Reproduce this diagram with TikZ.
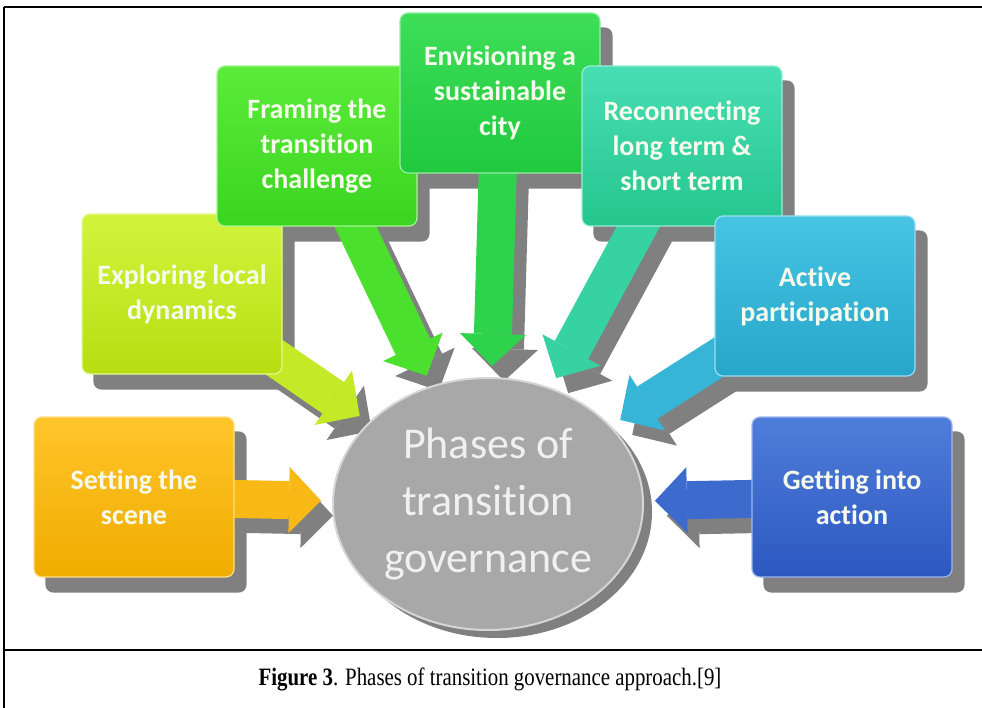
\documentclass[tikz,border=0pt]{standalone}
\usepackage{fontspec}
\setmainfont{Liberation Serif}
\newfontfamily\calibri[Ligatures=NoCommon]{Carlito}
\usetikzlibrary{shapes.geometric, arrows.meta, positioning}
\definecolor{scenetop}{HTML}{FFC52A}
\definecolor{scenebot}{HTML}{F0AC00}
\definecolor{exploretop}{HTML}{D2F43C}
\definecolor{explorebot}{HTML}{B6DE12}
\definecolor{framingtop}{HTML}{5CEB3A}
\definecolor{framingbot}{HTML}{3AD520}
\definecolor{visiontop}{HTML}{3EDE58}
\definecolor{visionbot}{HTML}{1FC93E}
\definecolor{reconnecttop}{HTML}{48DEB4}
\definecolor{reconnectbot}{HTML}{25C68E}
\definecolor{activetop}{HTML}{46C4E2}
\definecolor{activebot}{HTML}{27A6CB}
\definecolor{actiontop}{HTML}{4F7DDA}
\definecolor{actionbot}{HTML}{2C58C0}
\definecolor{shadowgray}{HTML}{808080}
\definecolor{hubgray}{HTML}{A8A8A8}
\definecolor{hubrim}{HTML}{D6D6D6}
\definecolor{boxtext}{HTML}{F6FAEC}
\pgfdeclarelayer{shade}
\pgfdeclarelayer{pointers}
\pgfsetlayers{shade,pointers,main}
\tikzset{
  phase/.style={rectangle, rounded corners=8pt, minimum width=200pt, minimum height=160pt,
    align=center, top color=#1top, bottom color=#1bot, draw=#1top!55!white, line width=1.2pt,
    text=boxtext, font=\calibri\bfseries\fontsize{28}{35}\selectfont},
  core/.style={ellipse, minimum width=310pt, minimum height=252pt, inner sep=0pt, align=center,
    fill=hubgray, draw=hubrim, line width=2pt, text=white!94!black,
    font=\calibri\fontsize{44}{57}\selectfont},
  fatarr/.style={line width=38pt, draw=#1top!50!#1bot,
    -{Triangle[length=32pt, width=66pt, line width=0pt]}, shorten >=11pt},
  shadearr/.style={line width=38pt, draw=shadowgray,
    -{Triangle[length=32pt, width=66pt, line width=0pt]}, shorten >=11pt,
    transform canvas={shift={(12pt,-15pt)}}},
  frameline/.style={line width=2.4pt, draw=black},
}
\begin{document}
\begin{tikzpicture}[x=1pt, y=-1pt]
  \useasboundingbox (0,0) rectangle (982,708);
  \node[core] (hub) at (488,504) {Phases of\\transition\\governance};
  \node[phase=scene] (scene) at (134,497) {Setting the\\scene};
  \node[phase=explore] (explore) at (182,294) {Exploring local\\dynamics};
  \node[phase=framing] (framing) at (317,146) {Framing the\\transition\\challenge};
  \node[phase=vision] (vision) at (500,93) {Envisioning a\\sustainable\\city};
  \node[phase=reconnect] (reconnect) at (682,146) {Reconnecting\\long term \&\\short term};
  \node[phase=active] (active) at (815,296) {Active\\participation};
  \node[phase=action] (action) at (852,497) {Getting into\\action};
  \node[font=\fontsize{25}{29}\selectfont, xscale=0.835, transform shape] (caption) at (490,679)
    {\textbf{Figure 3}. Phases of transition governance approach.[9]};

  \begin{pgfonlayer}{shade}
    \fill[white] (0,0) rectangle (982,708);
    \fill[shadowgray] ([shift={(9,8)}]hub.center) ellipse [x radius=155pt, y radius=126pt];
    \foreach \p in {scene,explore,framing,vision,reconnect,active,action}
      \fill[shadowgray, rounded corners=8pt] ([shift={(12,15)}]\p.south west) rectangle ([shift={(12,15)}]\p.north east);
    \foreach \p in {scene,explore,framing,vision,reconnect,active,action}
      \draw[shadearr] (\p.center) -- (hub);
  \end{pgfonlayer}

  \begin{pgfonlayer}{pointers}
    \draw[fatarr=scene] (scene.center) -- (hub);
    \draw[fatarr=explore] (explore.center) -- (hub);
    \draw[fatarr=framing] (framing.center) -- (hub);
    \draw[fatarr=vision] (vision.center) -- (hub);
    \draw[fatarr=reconnect] (reconnect.center) -- (hub);
    \draw[fatarr=active] (active.center) -- (hub);
    \draw[fatarr=action] (action.center) -- (hub);
  \end{pgfonlayer}

  \draw[frameline] (4,7) -- (982,7);
  \draw[frameline] (4,7) -- (4,708);
  \draw[frameline] (4,650) -- (982,650);
\end{tikzpicture}
\end{document}
